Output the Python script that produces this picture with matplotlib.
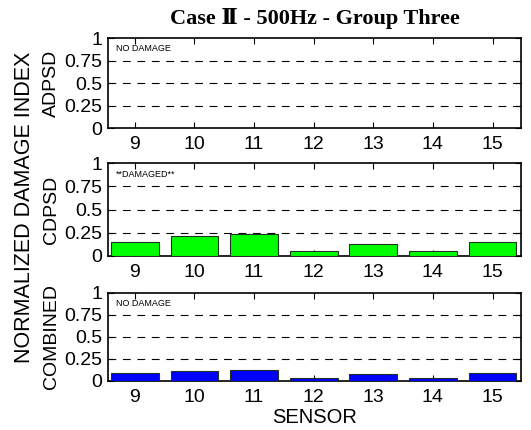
import numpy as np
import matplotlib
matplotlib.use('Agg')
import matplotlib.pyplot as plt

plt.rcParams['font.family'] = ['Liberation Sans', 'DejaVu Sans']

sensors = [9, 10, 11, 12, 13, 14, 15]
adpsd = [0, 0, 0, 0, 0, 0, 0]
cdpsd = [0.152, 0.213, 0.235, 0.058, 0.126, 0.058, 0.152]
combined = [0.085, 0.11, 0.13, 0.037, 0.074, 0.037, 0.085]

panels = [
    ('ADPSD', adpsd, (0, 1, 0), 'NO DAMAGE'),
    ('CDPSD', cdpsd, (0, 1, 0), '**DAMAGED**'),
    ('COMBINED', combined, (0, 0, 1), 'NO DAMAGE'),
]
yticks = [0, 0.25, 0.5, 0.75, 1]
yticklabels = ['0', '0.25', '0.5', '0.75', '1']

fig = plt.figure(figsize=(5.31, 4.30), dpi=100)
positions = [
    [0.2034, 0.7023, 0.778, 0.209],
    [0.2034, 0.4047, 0.778, 0.216],
    [0.2034, 0.1140, 0.778, 0.205],
]

axes = []
for pos, (name, vals, col, note) in zip(positions, panels):
    ax = fig.add_axes(pos)
    ax.bar(sensors, vals, width=0.8, color=col, edgecolor='#1f3320', linewidth=0.8, zorder=3)
    ax.set_xlim(8.55, 15.48)
    ax.set_ylim(0, 1)
    ax.set_xticks(sensors)
    ax.set_yticks(yticks)
    ax.set_yticklabels(yticklabels)
    ax.tick_params(direction='in', length=4, width=0.8, labelsize=14, pad=4,
                   top=True, right=True)
    ax.tick_params(axis='x', pad=6)
    for yv in yticks[1:-1]:
        ax.axhline(yv, color='black', linestyle=(0, (7, 6)), linewidth=0.8, zorder=1)
    for s in ax.spines.values():
        s.set_linewidth(1.2)
    ax.set_ylabel(name, fontsize=14, labelpad=3)
    ax.text(0.02, 0.93, note, transform=ax.transAxes, fontsize=6.5, va='top', ha='left')
    axes.append(ax)

fig.align_ylabels(axes)
axes[0].set_title('Case Ⅱ - 500Hz - Group Three', fontsize=16, fontweight='bold',
                  family=['Liberation Serif', 'DejaVu Serif'], pad=10)
axes[2].set_xlabel('SENSOR', fontsize=14.5, labelpad=1)
fig.text(0.046, 0.518, 'NORMALIZED DAMAGE INDEX', rotation=90, fontsize=15.5,
         ha='center', va='center')

fig.savefig('out.png', dpi=100)
